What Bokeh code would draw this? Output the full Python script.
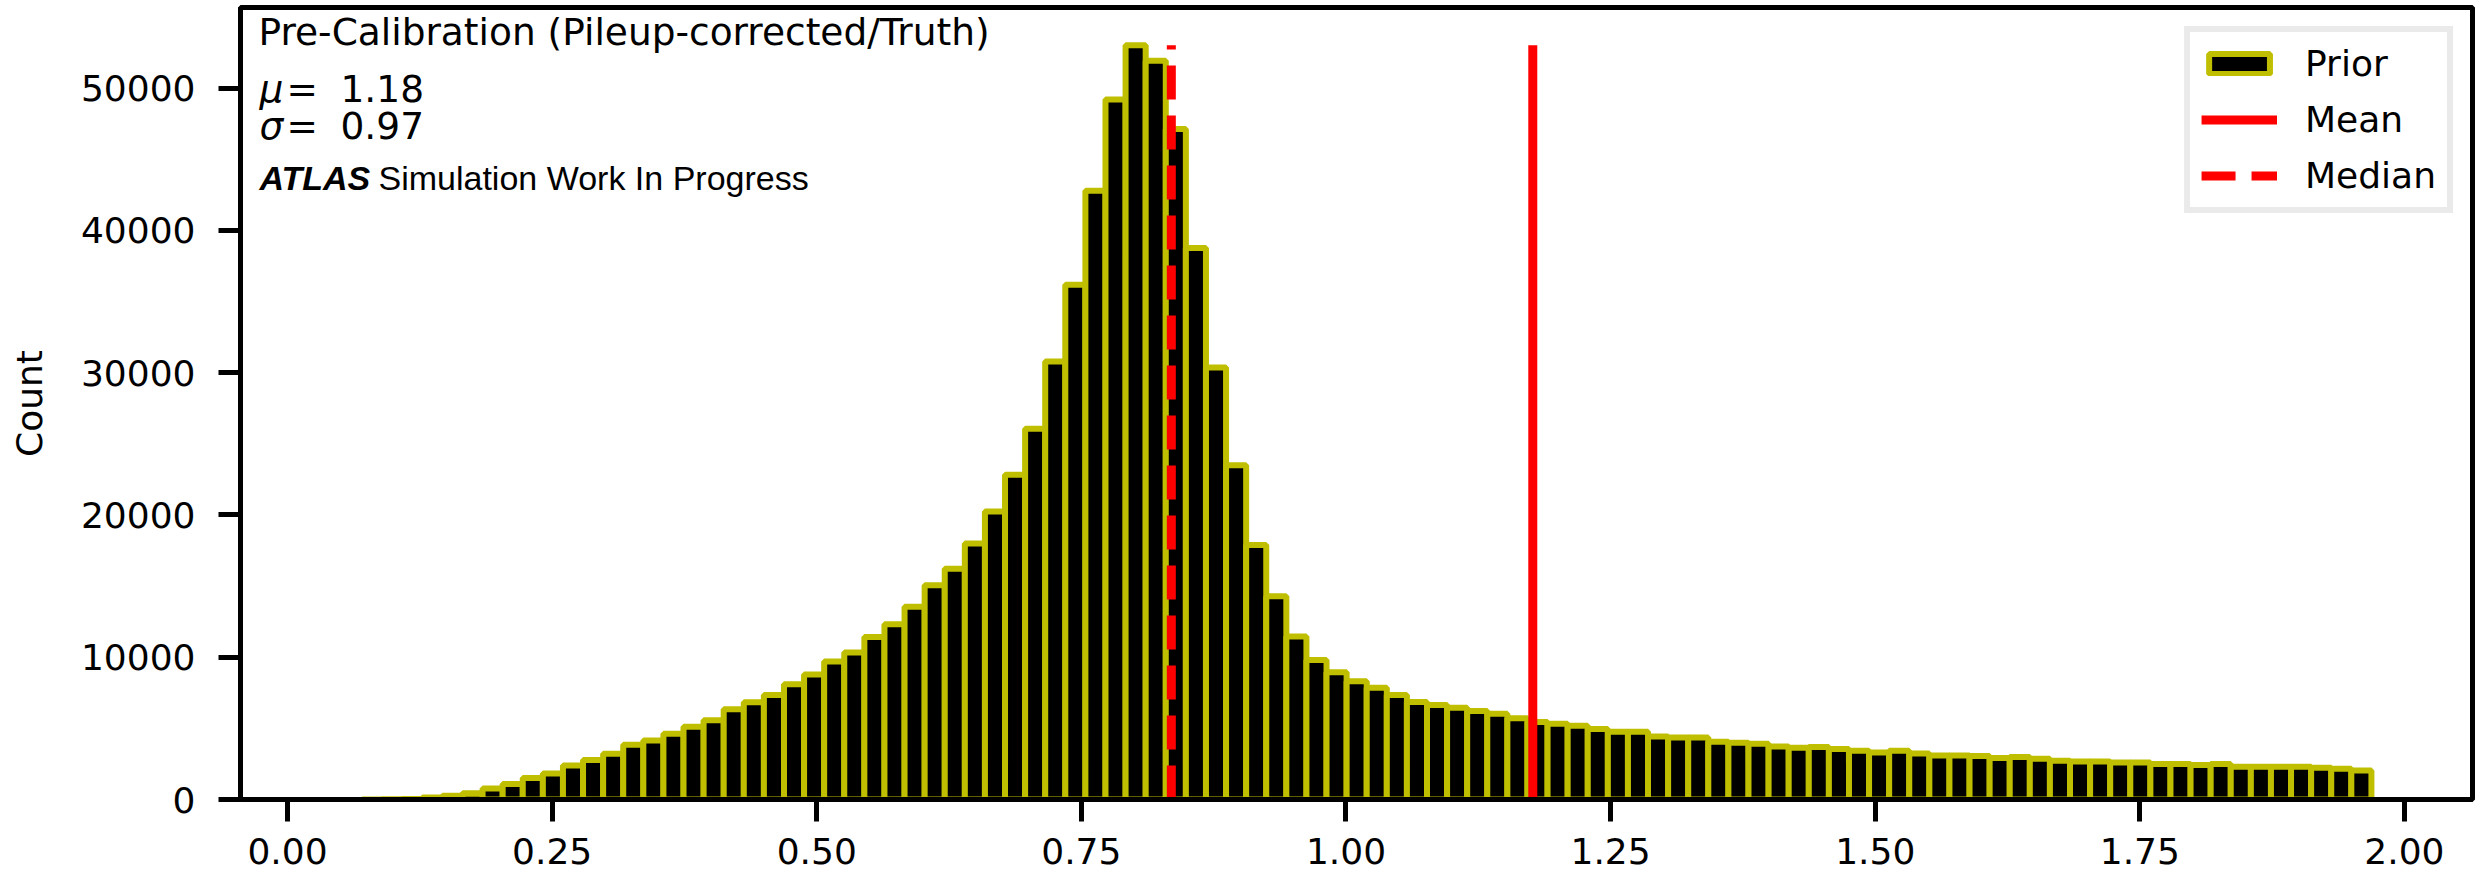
import numpy as np
from bokeh.plotting import figure
from bokeh.models import (Range1d, FixedTicker, NumeralTickFormatter, Label,
                          Legend, LegendItem)
from bokeh.embed import file_html
from bokeh.resources import INLINE

# Histogram of the pileup-corrected / truth response (100 equal bins)
bin_lo = 0.0704
bin_hi = 1.9688
counts = [
    5, 20, 40, 140, 258, 446, 770, 1090, 1510, 1830,
    2394, 2770, 3215, 3849, 4154, 4624, 5116, 5562, 6337, 6830,
    7346, 8097, 8778, 9693, 10331, 11417, 12327, 13553, 15059, 16214,
    18000, 20242, 22833, 26055, 30783, 36176, 42794, 49203, 53020, 51935,
    47137, 38767, 30362, 23498, 17895, 14288, 11452, 9806, 8942, 8308,
    7862, 7346, 6853, 6642, 6454, 6220, 6032, 5703, 5445, 5328,
    5187, 4952, 4764, 4764, 4436, 4365, 4365, 4060, 3990, 3919,
    3732, 3638, 3685, 3544, 3427, 3309, 3427, 3239, 3098, 3098,
    3051, 2910, 2981, 2863, 2723, 2676, 2676, 2605, 2605, 2488,
    2488, 2417, 2488, 2300, 2300, 2300, 2300, 2230, 2159, 2042,
]
mean_value = 1.1765
median_value = 0.835
mu_text = "1.18"
sigma_text = "0.97"

x_ticks = [0.0, 0.25, 0.5, 0.75, 1.0, 1.25, 1.5, 1.75, 2.0]
y_ticks = [0, 10000, 20000, 30000, 40000, 50000]

edges = np.linspace(bin_lo, bin_hi, len(counts) + 1)
peak = max(counts)

X0, X1 = -0.0444, 2.0643
Y0, Y1 = 0.0, 1.05 * peak

W, H = 2478, 880
p = figure(width=W, height=H, output_backend="svg", toolbar_location=None,
           x_range=Range1d(X0, X1), y_range=Range1d(Y0, Y1),
           min_border_left=240, min_border_right=6, min_border_top=7,
           min_border_bottom=81)
p.background_fill_color = "white"
p.border_fill_color = "white"
p.xgrid.visible = False
p.ygrid.visible = False
p.outline_line_color = "black"
p.outline_line_width = 5

FONT = "DejaVu Sans"
for ax in (p.xaxis[0], p.yaxis[0]):
    ax.axis_line_color = "black"
    ax.axis_line_width = 5
    ax.major_tick_line_color = "black"
    ax.major_tick_line_width = 5
    ax.major_tick_out = 22
    ax.major_tick_in = 0
    ax.minor_tick_line_color = None
    ax.major_label_text_font = FONT
    ax.major_label_text_font_size = "36px"
    ax.major_label_text_color = "black"

p.xaxis.ticker = FixedTicker(ticks=x_ticks)
p.xaxis.formatter = NumeralTickFormatter(format="0.00")
p.xaxis.major_label_standoff = 16

p.yaxis.ticker = FixedTicker(ticks=y_ticks)
p.yaxis.formatter = NumeralTickFormatter(format="0")
p.yaxis.major_label_standoff = 23
p.yaxis.axis_label = "Count"
p.yaxis.axis_label_text_font = FONT
p.yaxis.axis_label_text_font_size = "36px"
p.yaxis.axis_label_text_font_style = "normal"
p.yaxis.axis_label_text_color = "black"
p.yaxis.axis_label_standoff = 28

bars = p.quad(left=edges[:-1], right=edges[1:], bottom=0, top=counts,
              fill_color="black", line_color="#bfbf00", line_width=6)
mean_line = p.segment(x0=[mean_value], y0=[0], x1=[mean_value], y1=[peak],
                      line_color="#ff0000", line_width=9)
median_line = p.segment(x0=[median_value], y0=[0], x1=[median_value], y1=[peak],
                        line_color="#ff0000", line_width=9, line_dash="34 16")

# helpers: place text in axes-fraction style coordinates
FRAME_L, FRAME_R, FRAME_T, FRAME_B = 240, 2472, 7, 799


def ax_x(px):
    return X0 + (px - FRAME_L) / (FRAME_R - FRAME_L) * (X1 - X0)


def ax_y(py):
    return Y0 + (FRAME_B - py) / (FRAME_B - FRAME_T) * (Y1 - Y0)


def add_text(txt, px, py, font=FONT, size="37.5px", style="normal"):
    p.add_layout(Label(x=ax_x(px), y=ax_y(py), text=txt, text_font=font,
                       text_font_size=size, text_font_style=style,
                       text_color="black", text_baseline="alphabetic",
                       text_align="left"))


add_text("Pre-Calibration (Pileup-corrected/Truth)", 258, 31)
add_text("\u03bc", 259, 88, style="italic")
add_text("=", 286, 88)
add_text(mu_text, 340, 88)
add_text("\u03c3", 259, 125, style="italic")
add_text("=", 286, 125)
add_text(sigma_text, 340, 125)
add_text("ATLAS", 259, 177, font="Liberation Sans", size="34px", style="bold italic")
add_text("Simulation Work In Progress", 378, 177, font="Liberation Sans", size="34px")

legend = Legend(items=[LegendItem(label="Prior", renderers=[bars]),
                       LegendItem(label="Mean", renderers=[mean_line]),
                       LegendItem(label="Median", renderers=[median_line])],
                location="top_right")
legend.label_text_font = FONT
legend.label_text_font_size = "36px"
legend.label_text_color = "black"
legend.glyph_width = 76
legend.glyph_height = 25
legend.label_standoff = 28
legend.spacing = 15
legend.padding = 11
legend.margin = 19
legend.border_line_color = "#d6d6d6"
legend.border_line_width = 6
legend.background_fill_color = "white"
legend.background_fill_alpha = 1.0
p.add_layout(legend)

open("out.html", "w").write(file_html(p, INLINE))
